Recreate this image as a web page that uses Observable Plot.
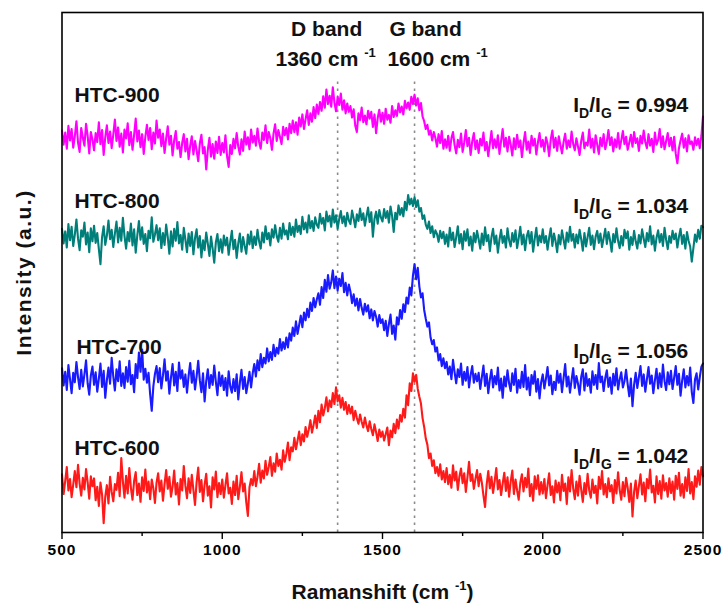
<!DOCTYPE html>
<html><head><meta charset="utf-8">
<script src="https://cdn.jsdelivr.net/npm/d3@7"></script>
<script src="https://cdn.jsdelivr.net/npm/@observablehq/plot@0.6"></script>
<style>
body{margin:0;background:#fff;}
#chart svg{font-family:"Liberation Sans",Arial,sans-serif;}
#chart g[aria-label="x-axis tick label"] text{letter-spacing:1px;}
</style></head><body><div id="chart"></div>
<script>
// ---- data ----
const samples = ["HTC-600", "HTC-700", "HTC-800", "HTC-900"];
const ratios = ["1.042", "1.056", "1.034", "0.994"];
const colors = ["#ff1a1a", "#1a1aff", "#007f7a", "#ff00ff"];
const bands = [1360, 1600];
const bandNames = ["D band", "G band"];
const bandShifts = ["1360 cm-1", "1600 cm-1"];
const xTicks = [500, 1000, 1500, 2000, 2500];
const xMinorTicks = [750, 1250, 1750, 2250];
const shiftStart = 500, shiftStep = 5; // Raman shift of the samples below (cm-1)

const htc600 = [
11.2,7.4,9.9,12.6,8.1,10.3,6.8,9.2,11.8,8.7,13.0,9.4,7.1,10.5,8.3,12.2,9.7,6.5,10.8,8.9,
10.4,6.2,8.8,5.1,9.6,7.3,1.8,6.9,9.1,5.6,10.7,7.8,6.0,9.3,8.2,11.5,7.0,14.3,9.8,6.7,
10.9,7.5,12.4,8.6,6.3,9.9,11.6,7.2,9.4,5.9,10.6,8.0,12.1,7.7,9.8,6.4,10.2,8.5,5.7,9.6,
11.4,7.9,10.0,6.1,9.3,12.0,8.4,10.7,6.9,8.8,11.9,7.3,9.5,5.4,10.3,8.1,12.8,9.0,6.6,10.4,
7.6,11.1,8.2,5.3,9.7,12.5,7.8,10.1,6.0,9.2,11.3,7.1,8.9,4.8,10.6,8.3,11.7,6.8,9.5,7.4,
10.2,6.7,9.1,11.4,7.5,8.6,5.5,9.8,7.2,10.9,6.4,8.8,11.6,7.9,9.4,5.8,3.2,8.7,10.3,9.1,
11.8,8.9,10.7,13.2,9.6,11.9,10.4,13.8,11.1,12.6,14.5,10.9,13.3,11.7,15.2,12.8,14.0,12.1,15.8,13.6,
15.1,17.3,13.9,16.4,15.6,18.2,16.0,17.7,19.4,16.8,18.9,17.5,20.3,18.4,19.8,21.6,19.2,20.7,22.5,20.1,
23.4,21.2,24.6,22.5,23.9,26.0,23.3,25.4,24.1,26.8,24.7,27.9,25.2,26.4,24.0,25.9,23.6,25.1,22.8,24.5,
22.9,24.2,21.6,23.4,22.0,20.9,22.7,21.3,20.2,22.1,20.6,19.5,21.4,19.9,18.7,20.8,19.3,17.6,19.8,18.4,
19.4,17.7,18.9,20.2,16.8,19.6,18.3,20.9,19.1,21.7,20.0,22.6,21.3,23.8,22.1,26.4,24.5,28.7,27.2,30.6,
29.0,30.3,27.6,26.1,24.8,22.0,20.3,18.1,16.9,14.3,15.2,12.8,13.9,11.4,12.6,10.9,13.1,10.2,11.8,9.7,
12.4,9.3,11.1,8.6,12.9,10.0,11.7,8.2,10.8,12.3,9.5,11.4,7.8,10.6,13.6,9.9,11.2,8.4,10.3,12.0,
8.9,11.3,9.6,7.1,4.9,9.2,11.8,8.5,10.7,7.6,9.9,12.4,8.3,10.1,7.2,9.4,11.5,8.0,10.6,6.9,
9.8,11.9,7.4,10.2,8.1,6.3,9.6,11.2,7.9,10.5,8.7,12.3,7.0,9.3,6.1,10.8,8.4,11.0,7.3,9.7,
7.5,10.3,6.6,9.1,11.4,7.2,8.9,5.8,10.0,7.7,9.6,6.2,11.1,8.0,9.4,5.5,10.6,7.9,12.0,8.5,
6.4,9.8,7.1,10.9,8.3,5.9,9.5,7.4,11.3,8.1,6.7,10.2,7.6,9.0,5.6,10.7,8.4,11.8,7.3,9.3,
6.8,10.4,7.9,9.1,5.7,10.1,7.5,11.6,8.2,6.3,9.7,7.0,10.5,8.6,5.9,9.4,3.1,7.8,10.0,6.6,
8.9,11.2,7.3,9.6,6.0,10.3,8.5,12.1,7.7,9.0,5.8,10.8,7.4,9.9,6.5,11.0,8.1,9.5,6.9,10.4,
7.6,9.8,6.3,10.9,8.4,11.5,7.1,9.3,6.7,10.6,8.0,12.2,7.5,9.7,6.4,10.8,8.8,11.9,9.2,12.6,
10.8];

const htc700 = [
31.6,28.3,30.9,27.4,32.2,29.5,26.8,30.7,28.9,32.8,29.9,27.6,31.3,28.1,30.4,33.1,28.7,26.5,30.2,31.9,
28.4,30.8,27.1,29.6,32.5,28.0,31.1,25.9,29.3,31.7,28.6,33.6,30.0,27.3,31.4,29.1,32.9,28.2,30.6,27.8,
31.8,29.0,33.0,28.5,30.3,27.0,32.4,29.7,34.6,30.9,35.2,29.4,31.5,28.8,30.7,26.6,23.4,28.1,30.5,32.0,
28.9,31.6,27.7,30.2,33.3,29.2,31.0,26.7,29.8,32.4,28.3,30.9,27.2,32.7,29.6,31.2,28.0,30.4,26.9,30.1,
32.6,28.8,31.1,27.5,30.0,33.0,29.3,27.0,30.6,25.2,29.1,31.4,27.8,30.3,28.4,32.1,29.0,26.4,30.8,28.2,
30.2,27.4,29.7,26.3,31.0,28.1,26.9,29.5,27.2,30.4,25.6,28.8,31.3,27.6,29.9,26.8,28.7,30.9,27.9,30.6,
32.4,30.0,33.1,31.2,34.3,31.8,33.6,32.5,35.4,32.9,34.7,33.2,36.1,33.9,35.5,34.4,37.2,35.0,36.6,35.3,
37.5,35.6,38.3,36.9,39.4,37.8,40.6,38.2,39.9,41.7,39.5,42.3,40.8,43.0,41.4,44.2,42.6,45.1,43.3,44.8,
46.0,43.8,47.2,45.1,48.6,46.3,49.5,46.9,48.1,50.4,47.0,49.2,46.5,48.8,47.4,49.9,46.2,48.0,45.6,47.7,
46.3,44.1,45.8,43.6,45.0,42.7,44.9,43.2,41.9,44.0,42.5,43.7,41.2,42.9,40.8,42.6,41.5,39.6,41.8,40.3,
41.0,38.9,40.7,37.8,40.1,41.9,38.2,39.8,37.1,41.4,40.0,42.8,41.1,43.9,42.4,45.2,44.0,47.1,45.6,49.4,
51.6,48.7,50.9,47.3,45.2,46.0,42.8,41.1,39.6,40.4,37.5,36.2,37.0,34.8,35.6,33.1,34.3,32.0,33.5,31.6,
32.8,30.4,31.9,29.5,33.2,30.8,28.7,31.4,29.9,32.5,28.4,30.9,29.2,31.8,27.9,30.3,32.0,28.8,30.5,29.1,
30.7,27.6,29.9,32.1,28.2,30.5,26.8,29.4,31.3,27.9,30.1,28.5,31.7,27.3,29.6,25.9,30.0,28.1,31.2,28.7,
27.2,30.6,28.4,31.5,26.9,29.3,27.8,30.9,28.0,32.2,27.5,29.8,26.4,30.3,28.6,31.0,27.1,29.5,25.8,28.9,
30.4,27.7,29.6,31.8,28.3,30.2,26.6,29.0,27.4,31.1,28.8,30.5,27.0,29.7,32.4,28.1,30.0,26.9,29.3,31.6,
27.8,30.1,28.6,26.5,29.9,31.4,27.3,30.6,28.2,29.5,26.9,31.0,28.4,30.3,27.6,32.6,28.9,30.0,27.2,29.7,
31.2,28.0,29.8,26.7,30.5,28.3,31.6,27.5,29.4,30.8,27.9,29.1,31.3,28.5,26.2,29.6,24.3,28.4,30.7,27.8,
29.9,32.0,28.2,30.4,27.1,29.5,31.8,28.6,30.2,26.8,29.3,31.5,27.7,30.6,28.0,32.3,29.1,27.4,30.8,28.5,
31.1,27.6,29.8,32.0,28.4,30.5,26.3,29.2,31.4,27.9,30.1,28.3,31.7,27.0,24.9,29.4,30.6,27.5,29.9,31.9,
32.5];

const htc800 = [
58.4,55.6,57.9,54.8,59.3,56.2,58.8,55.1,57.3,60.2,56.5,54.3,58.1,56.9,59.6,55.4,57.7,53.9,58.5,56.0,
59.0,55.7,57.6,54.5,51.6,56.8,58.9,55.3,57.1,60.0,56.4,58.2,54.9,57.5,59.8,55.8,58.6,56.1,60.5,57.0,
54.6,57.8,56.0,59.4,55.2,58.3,53.8,57.2,59.9,56.3,58.7,55.5,57.4,54.1,58.0,56.6,60.6,55.9,57.3,59.1,
56.2,58.5,54.7,57.6,55.3,59.2,56.8,53.6,57.9,55.0,58.4,56.1,59.7,55.6,57.2,54.4,58.6,56.3,53.9,57.5,
55.1,57.8,53.5,56.6,58.3,54.8,57.0,52.9,56.2,54.3,57.7,55.5,53.2,56.9,54.6,51.9,55.8,57.4,54.1,56.4,
53.8,57.1,55.2,56.7,53.4,55.9,58.0,54.5,56.3,52.8,55.6,57.5,54.0,56.8,55.1,53.6,57.3,55.4,57.9,54.7,
56.9,55.3,58.2,56.0,54.6,57.7,55.8,58.9,56.4,57.6,55.2,58.3,56.7,59.1,57.0,55.9,58.6,56.5,59.4,57.3,
58.1,56.4,59.5,57.2,58.8,56.9,60.2,57.8,59.0,57.4,60.7,58.3,59.6,57.7,61.0,58.5,59.9,58.0,60.6,59.2,
58.6,61.3,59.4,60.5,58.1,61.7,59.8,60.9,58.8,62.1,59.6,61.0,58.4,60.3,61.8,59.5,60.8,58.9,61.5,60.0,
59.3,61.9,60.4,58.7,61.2,59.9,62.3,60.1,61.4,59.0,60.8,62.5,59.7,61.6,56.9,60.3,61.7,59.4,62.0,60.6,
59.8,62.2,60.5,61.8,59.6,62.7,60.9,57.8,61.5,60.2,62.9,61.1,62.4,60.8,63.6,62.0,64.9,63.1,64.2,62.8,
64.5,62.6,63.9,61.7,62.4,60.3,61.0,59.2,58.4,59.8,57.6,58.9,56.8,58.1,57.4,55.9,58.0,56.6,57.8,55.5,
57.3,55.0,58.6,56.2,57.7,54.9,56.8,58.9,55.6,57.4,54.5,57.9,56.1,58.3,55.2,56.9,54.2,57.6,55.8,58.0,
56.4,54.6,57.5,55.3,58.7,56.0,57.2,54.1,56.8,58.4,55.5,57.1,53.8,56.3,58.2,55.7,57.0,54.8,58.5,56.2,
55.0,57.6,55.9,58.1,54.7,56.6,58.8,55.4,57.3,54.3,56.9,58.0,55.6,57.8,54.0,56.5,58.6,55.2,57.1,55.8,
58.3,55.7,57.0,54.4,56.7,58.5,55.1,57.5,56.0,53.9,57.2,55.4,58.1,56.3,54.6,57.7,55.9,58.8,56.1,57.4,
54.8,57.3,55.6,58.2,56.4,54.2,57.6,55.0,56.8,58.6,55.3,57.1,54.5,56.9,58.0,55.7,57.5,54.9,56.6,58.4,
55.5,57.8,56.2,54.0,57.4,55.8,58.5,56.1,54.7,57.0,55.2,58.2,56.6,57.9,54.4,56.8,55.3,58.0,56.0,54.6,
57.2,55.6,58.3,56.5,54.9,57.6,56.0,58.9,55.4,57.1,54.2,56.7,58.1,55.8,57.4,55.1,58.6,56.3,54.5,57.0,
55.7,58.0,56.4,57.5,54.8,56.9,58.4,55.5,57.2,54.6,57.8,56.1,55.0,52.1,54.7,57.3,55.9,58.2,56.5,59.0,
58.7];

const htc900 = [
77.3,74.6,76.9,73.8,78.2,75.4,77.6,74.0,76.2,79.1,75.0,73.2,77.8,75.9,74.4,78.6,76.3,72.9,77.0,75.6,
73.5,76.8,75.1,78.9,74.7,77.4,72.6,76.0,78.3,74.9,77.1,73.9,76.5,79.4,75.3,77.9,74.2,76.7,73.1,77.5,
75.8,78.7,74.5,77.0,73.6,76.4,79.6,75.2,77.3,74.1,76.6,72.8,76.1,78.4,75.5,77.8,73.7,76.9,74.8,79.2,
75.9,77.5,74.3,76.7,73.0,75.8,78.1,74.6,76.3,72.5,75.4,77.2,73.8,75.1,72.2,74.9,76.6,73.3,75.7,71.8,
74.4,76.2,72.7,75.3,73.5,71.4,74.8,76.5,72.9,74.1,69.8,73.6,75.9,72.3,74.7,71.9,75.2,73.0,76.1,72.6,
74.9,73.1,76.4,72.4,70.3,74.5,72.8,75.7,73.9,76.8,74.2,72.7,75.6,73.4,77.1,74.6,76.0,73.7,77.5,75.0,
76.3,74.4,77.7,75.1,73.8,76.9,75.5,78.3,74.9,77.0,75.8,73.6,76.7,78.5,75.3,77.4,76.1,74.7,78.0,76.4,
77.8,75.6,78.6,76.8,79.2,77.0,78.9,76.5,79.8,78.1,80.4,77.6,79.5,81.2,78.4,80.6,79.0,81.8,79.7,82.3,
80.5,82.8,81.1,83.9,81.7,85.2,82.4,84.0,81.9,85.6,82.7,81.0,83.8,82.2,84.4,81.3,83.1,80.6,82.5,80.9,
82.0,79.8,81.4,78.2,77.0,80.6,79.3,81.7,78.9,80.2,78.5,81.1,79.6,80.9,78.0,80.4,76.8,79.7,81.3,79.0,
80.7,78.6,81.5,79.4,80.3,78.8,82.0,79.9,81.2,80.1,82.5,80.8,81.9,80.4,83.0,81.6,82.7,81.3,83.8,82.4,
84.2,82.1,83.5,81.2,82.6,80.0,79.1,77.6,78.4,76.5,77.3,75.4,77.0,75.9,74.2,76.6,74.9,77.2,73.8,75.6,
74.0,76.3,73.4,75.8,77.0,74.5,72.9,75.5,74.1,76.7,73.2,75.0,77.4,74.3,75.9,72.6,75.2,76.8,73.7,75.4,
73.0,75.7,74.4,76.9,73.5,75.1,72.4,74.8,77.2,73.9,75.6,74.0,76.4,72.8,75.3,77.6,74.2,75.9,73.3,76.1,
74.6,72.5,75.8,73.7,76.5,74.1,75.4,72.2,74.9,77.0,73.6,75.2,73.0,76.3,74.4,75.7,72.7,75.0,76.8,74.2,
75.5,73.3,76.0,74.8,72.4,75.6,77.3,74.0,75.9,73.4,76.2,74.5,72.9,75.1,76.7,73.8,75.4,74.1,77.1,74.7,
73.5,75.8,74.2,72.6,75.3,76.9,73.9,75.0,74.4,77.5,74.0,75.7,73.1,76.4,74.6,72.8,75.9,74.3,76.6,73.7,
75.2,77.4,74.5,76.0,73.3,75.6,74.1,76.8,73.8,75.4,77.2,74.7,76.1,73.6,75.0,76.5,74.2,77.0,74.9,75.8,
73.4,76.3,74.8,77.3,75.1,73.9,76.6,74.4,75.7,73.2,76.9,74.6,75.5,77.6,74.1,76.2,73.7,75.3,76.8,74.3,
75.9,73.5,76.1,72.8,71.0,73.9,75.4,76.7,74.0,75.8,73.3,76.4,74.7,75.2,73.6,76.0,74.5,75.7,73.9,76.3,
80.0];

const seriesValues = [htc600, htc700, htc800, htc900];

// label placement (data units)
const labelShift = [539, 545, 539, 539];
const labelLevel = [15.0, 34.4, 62.5, 82.7];
const ratioLevel = [13.3, 33.5, 61.5, 80.8];

// ---- table ----
const table = [];
seriesValues.forEach((vals, s) => {
  vals.forEach((v, i) => table.push({shift: shiftStart + i * shiftStep, intensity: v, sample: samples[s]}));
});

const font = {fontFamily: '"Liberation Sans", Arial, sans-serif', fontWeight: "bold"};

const chart = Plot.plot({
  width: 725,
  height: 607,
  marginLeft: 61.5,
  marginRight: 22.5,
  marginTop: 12,
  marginBottom: 75,
  style: {background: "#fff", overflow: "visible"},
  x: {domain: [500, 2500], axis: null},
  y: {domain: [0, 100], axis: null},
  color: {domain: samples, range: colors},
  marks: [
    Plot.ruleX(bands, {x: d => d, y1: 0, y2: 87.3, stroke: "#8c8c8c", strokeWidth: 1.6, strokeDasharray: "2.5,4.5"}),
    Plot.line(table, {x: "shift", y: "intensity", z: "sample", stroke: "sample", strokeWidth: 2.1, strokeLinejoin: "round"}),
    Plot.frame({stroke: "#000", strokeWidth: 1.6}),
    Plot.axisX(xTicks, {tickSize: 7, tickPadding: 4, tickFormat: d => String(d), fontSize: 15.5, fontWeight: "bold", fill: "#000", stroke: "#000", strokeWidth: 1.4, label: null}),
    Plot.axisX(xMinorTicks, {tickSize: 4, text: null, stroke: "#000", strokeWidth: 1.4, label: null}),
    Plot.text(samples, {x: (d, i) => labelShift[i], y: (d, i) => labelLevel[i], text: d => d, textAnchor: "start", lineAnchor: "bottom", fontSize: 21, fill: "#111", ...font}),
    Plot.text(ratios, {x: 2454, y: (d, i) => ratioLevel[i], text: d => "ID/IG = " + d, textAnchor: "end", lineAnchor: "bottom", fontSize: 21, fill: "#111", ...font}),
    Plot.text(bands, {x: d => d, y: 95.4, text: (d, i) => bandNames[i], lineAnchor: "bottom", fontSize: 21, fill: "#111", ...font}),
    Plot.text(bands, {x: d => d, y: 89.8, text: (d, i) => bandShifts[i], lineAnchor: "bottom", fontSize: 21, fill: "#111", ...font}),
    Plot.text(["Ramanshift (cm-1)"], {frameAnchor: "bottom", textAnchor: "middle", dy: 66, text: d => d, lineAnchor: "bottom", fontSize: 21, fill: "#111", ...font}),
    Plot.text(["Intensity (a.u.)"], {frameAnchor: "left", textAnchor: "middle", dx: -31.5, rotate: -90, text: d => d, lineAnchor: "bottom", fontSize: 21, fill: "#111", ...font})
  ]
});

document.getElementById("chart").appendChild(chart);

// ---- rich text (sub/superscripts) and fine offsets ----
const NS = "http://www.w3.org/2000/svg";
function rich(el, parts) {
  el.textContent = "";
  parts.forEach(p => {
    const t = document.createElementNS(NS, "tspan");
    t.textContent = p.t;
    if (p.size) t.setAttribute("font-size", p.size);
    if (p.dy) t.setAttribute("dy", p.dy);
    el.appendChild(t);
  });
}
function shiftX(el, dx) {
  el.setAttribute("transform", (el.getAttribute("transform") || "") + ` translate(${dx},0)`);
}
chart.querySelectorAll("text").forEach(el => {
  const s = el.textContent;
  if (s.startsWith("ID/IG = ")) {
    const v = s.slice(8);
    rich(el, [{t: "I"}, {t: "D", size: 14, dy: 6}, {t: "/I", dy: -6}, {t: "G", size: 14, dy: 6}, {t: " = " + v, dy: -6}]);
  } else if (s.endsWith("cm-1")) {
    const base = s.slice(0, -2);
    rich(el, [{t: base + " "}, {t: "-1", size: 13, dy: -9}]);
    shiftX(el, s.startsWith("1360") ? -12 : 23);
  } else if (s === "Ramanshift (cm-1)") {
    rich(el, [{t: "Ramanshift (cm "}, {t: "-1", size: 13, dy: -9}, {t: ")", dy: 9}]);
  } else if (s === "Intensity (a.u.)") {
    el.setAttribute("letter-spacing", "1.5");
  } else if (s === "D band") {
    shiftX(el, -11);
  } else if (s === "G band") {
    shiftX(el, 11);
  }
});
</script></body></html>
